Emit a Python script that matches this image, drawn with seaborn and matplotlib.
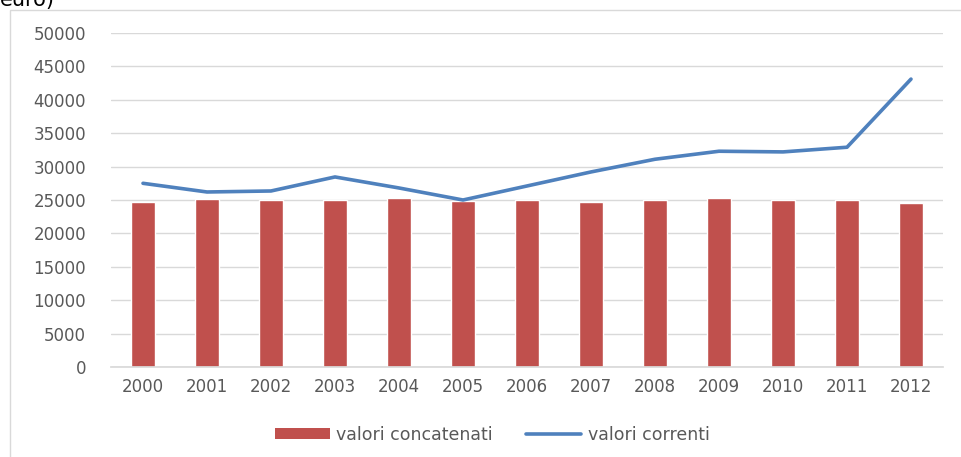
import numpy as np
import pandas as pd
import matplotlib
matplotlib.use("Agg")
import matplotlib.pyplot as plt
import seaborn as sns
from matplotlib.patches import Rectangle, Patch
from matplotlib.lines import Line2D

years = ["2000", "2001", "2002", "2003", "2004", "2005", "2006",
         "2007", "2008", "2009", "2010", "2011", "2012"]
valori_concatenati = [24700, 25150, 25000, 24950, 25300, 24800, 24950,
                      24750, 25000, 25300, 25000, 25000, 24500]
valori_correnti = [27500, 26200, 26350, 28450, 26800, 25000, 27100,
                   29200, 31100, 32300, 32200, 32900, 43100]
y_ticks = [0, 5000, 10000, 15000, 20000, 25000, 30000, 35000, 40000, 45000, 50000]

df = pd.DataFrame({"anno": years,
                   "concatenati": valori_concatenati,
                   "correnti": valori_correnti})

sns.set_theme(style="white")
plt.rcParams["font.family"] = ["DejaVu Sans"]

bar_color = "#C0504D"
line_color = "#4F81BD"
text_color = "#595959"

fig = plt.figure(figsize=(9.61, 4.57), dpi=100)
ax = fig.add_axes([111 / 961, 1 - 367 / 457, 832 / 961, 334 / 457])

sns.barplot(data=df, x="anno", y="concatenati", color=bar_color,
            width=0.39, saturation=1, ax=ax, zorder=2)
sns.lineplot(data=df, x="anno", y="correnti", color=line_color,
             linewidth=2.6, ax=ax, zorder=3)

ax.set_ylim(0, 50000)
ax.set_xlim(-0.5, 12.5)
ax.set_yticks(y_ticks)
ax.set_yticklabels([str(v) for v in y_ticks])
ax.yaxis.grid(True, color="#D9D9D9", linewidth=1)
ax.set_axisbelow(True)
for s in ["top", "right", "left"]:
    ax.spines[s].set_visible(False)
ax.spines["bottom"].set_color("#D9D9D9")
ax.tick_params(axis="both", length=0, colors=text_color, labelsize=12)
ax.tick_params(axis="y", pad=18)
ax.tick_params(axis="x", pad=8)
ax.set_xlabel("")
ax.set_ylabel("")

# outer chart frame
fig.patches.append(Rectangle((9.5 / 961, -0.05), 1.0, 1 - 9.5 / 457 + 0.05,
                             transform=fig.transFigure, fill=False,
                             edgecolor="#D9D9D9", linewidth=1, zorder=0))

# caption fragment at the top
fig.text(0 / 961, 1 - 6 / 457, "euro)", fontsize=15, color="#000000",
         ha="left", va="baseline")

handles = [Patch(facecolor=bar_color, edgecolor="none"),
           Line2D([0], [0], color=line_color, linewidth=2.6)]
fig.legend(handles, ["valori concatenati", "valori correnti"],
           loc="center", bbox_to_anchor=(492 / 961, 1 - 435 / 457),
           ncol=2, frameon=False, fontsize=12.5, handlelength=3.2,
           handleheight=0.6, columnspacing=1.9, handletextpad=0.35,
           labelcolor=text_color)

fig.savefig("out.png", dpi=100)
